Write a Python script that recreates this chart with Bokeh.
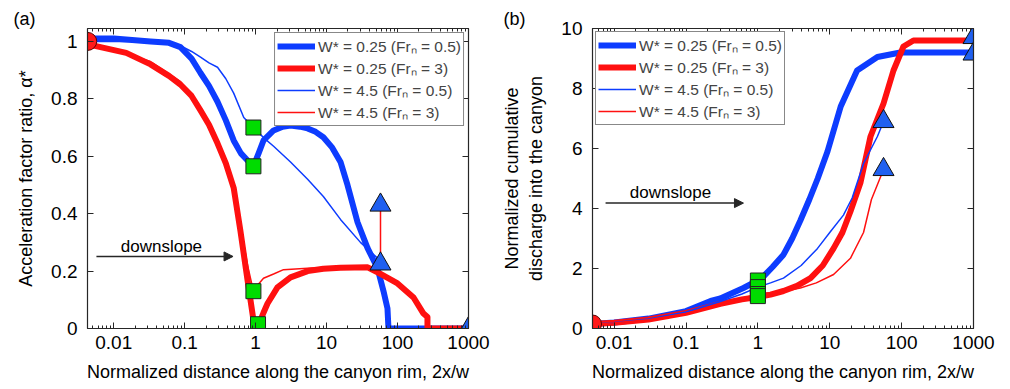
from bokeh.plotting import figure
from bokeh.models import (LogAxis, LinearAxis, Range1d, Legend, LegendItem, Label, Title,
                          Arrow, NormalHead, FixedTicker, CustomJSTickFormatter)
from bokeh.layouts import row
from bokeh.embed import file_html
from bokeh.resources import INLINE

# ---------------- panel (a): acceleration factor ratio ----------------
a_blue_thick_x = [0.0043, 0.01, 0.033, 0.06, 0.087, 0.125, 0.167, 0.22, 0.29, 0.38, 0.49, 0.62, 0.77, 0.93,
                  1.1, 1.29, 1.79, 2.4, 3.1, 4.2, 5.4, 7.0, 9.0, 12.0, 15.7, 19.7, 27.3, 37.8, 52.2, 63.4, 72.1, 74.5, 1000]
a_blue_thick_y = [1.01, 1.01, 1.0, 0.995, 0.98, 0.94, 0.89, 0.845, 0.79, 0.725, 0.655, 0.61, 0.585, 0.565,
                  0.61, 0.655, 0.69, 0.703, 0.707, 0.703, 0.697, 0.685, 0.666, 0.63, 0.58, 0.50, 0.37, 0.28, 0.21, 0.13, 0.07, 0.0, 0.0]

a_red_thick_x = [0.0043, 0.0065, 0.015, 0.033, 0.06, 0.087, 0.125, 0.167, 0.22, 0.29, 0.38, 0.49, 0.61, 0.77, 0.93, 1.08,
                 1.2, 1.29, 1.47, 2.03, 3.1, 5.4, 9.0, 15.7, 38, 57.5, 100, 168, 232, 264, 264, 1000]
a_red_thick_y = [0.99, 0.98, 0.96, 0.92, 0.88, 0.85, 0.81, 0.76, 0.71, 0.645, 0.575, 0.49, 0.34, 0.167, 0.03, 0.01,
                 0.035, 0.055, 0.087, 0.143, 0.178, 0.20, 0.208, 0.212, 0.213, 0.19, 0.157, 0.108, 0.052, 0.04, 0.0, 0.0]

a_blue_thin_x = [0.0043, 0.033, 0.087, 0.125, 0.167, 0.22, 0.29, 0.38, 0.49, 0.68, 0.93,
                 1.29, 1.79, 3.1, 5.4, 9.0, 15.7, 30, 52.2, 57.5]
a_blue_thin_y = [1.0, 1.0, 0.985, 0.965, 0.945, 0.925, 0.91, 0.87, 0.82, 0.735, 0.70,
                 0.665, 0.635, 0.58, 0.52, 0.46, 0.38, 0.30, 0.245, 0.225]

a_red_thin_x = [0.0043, 0.0065, 0.033, 0.087, 0.167, 0.29, 0.49, 0.61, 0.77, 0.93,
                1.1, 1.29, 1.79, 2.47, 5.4, 15.7, 42, 57.5, 57.5]
a_red_thin_y = [0.995, 0.985, 0.93, 0.86, 0.77, 0.655, 0.50, 0.36, 0.22, 0.13,
                0.155, 0.175, 0.19, 0.205, 0.21, 0.215, 0.215, 0.22, 0.43]

a_square_x = [0.93, 0.93, 0.93, 1.08]
a_square_y = [0.70, 0.565, 0.13, 0.015]
a_circle_x = [0.0043]
a_circle_y = [1.0]
a_tri_x = [57.5, 57.5, 1000]
a_tri_y = [0.43, 0.225, 0.0]

# ---------------- panel (b): cumulative discharge ----------------
b_blue_thick_x = [0.005, 0.01, 0.03, 0.1, 0.22, 0.3, 0.63, 1.0, 1.2, 1.6, 2.27, 3.0, 3.9, 5.2, 6.8, 9.3,
                  14.2, 24, 46, 96, 1000]
b_blue_thick_y = [0.15, 0.2, 0.33, 0.58, 0.92, 1.0, 1.35, 1.6, 1.74, 2.05, 2.46, 3.0, 3.6, 4.3, 5.0, 5.9,
                  7.4, 8.6, 9.05, 9.2, 9.2]

b_red_thick_x = [0.005, 0.01, 0.03, 0.1, 0.3, 0.6, 1.0, 1.5, 2.27, 3.5, 5.4, 8.0, 11.3, 15.0, 19.4, 26.8,
                 36.9, 56, 77, 106, 146, 1000]
b_red_thick_y = [0.15, 0.19, 0.3, 0.52, 0.82, 0.97, 1.05, 1.13, 1.25, 1.42, 1.68, 2.1, 2.67, 3.2, 3.9, 4.87,
                 6.4, 7.5, 8.6, 9.4, 9.6, 9.6]

b_blue_thin_x = [0.005, 0.01, 0.03, 0.1, 0.3, 0.6, 1.0, 1.5, 2.27, 4.0, 6.76, 10.0, 15.5, 20.5, 29.5, 46, 56]
b_blue_thin_y = [0.15, 0.2, 0.32, 0.55, 0.9, 1.15, 1.38, 1.52, 1.68, 2.1, 2.67, 3.2, 3.78, 4.35, 5.5, 6.4, 6.9]

b_red_thin_x = [0.005, 0.01, 0.03, 0.1, 0.3, 0.6, 1.0, 1.6, 2.5, 3.9, 6.5, 11.3, 19.4, 29.5, 38, 56]
b_red_thin_y = [0.15, 0.19, 0.29, 0.5, 0.8, 1.0, 1.15, 1.2, 1.26, 1.35, 1.52, 1.8, 2.34, 3.2, 4.3, 5.3]

b_square_x = [1.0, 1.0, 1.0, 1.0]
b_square_y = [1.6, 1.38, 1.15, 1.08]
b_circle_x = [0.005]
b_circle_y = [0.15]
b_tri_x = [1000, 1000, 56, 56]
b_tri_y = [9.7, 9.15, 6.9, 5.3]

x_major = [0.01, 0.1, 1, 10, 100, 1000]
a_y_ticks = [0, 0.2, 0.4, 0.6, 0.8, 1.0]
b_y_ticks = [0, 2, 4, 6, 8, 10]
legend_labels = ["W* = 0.25 (Frₙ = 0.5)", "W* = 0.25 (Frₙ = 3)",
                 "W* = 4.5 (Frₙ = 0.5)", "W* = 4.5 (Frₙ = 3)"]

FONT = "Liberation Sans"
BLUE = "#0d3cff"
RED = "#ff1010"
GREEN = "#00dc00"
TRI = "#2060f0"
AX = "#262626"
x_minor = [m * 10.0 ** e for e in range(-3, 3) for m in range(2, 10)]


def fmt():
    return CustomJSTickFormatter(code="return String(tick);")


def style(ax, show_labels=True):
    ax.major_tick_in = 6
    ax.major_tick_out = 0
    ax.minor_tick_in = 3
    ax.minor_tick_out = 0
    ax.axis_line_color = AX
    ax.major_tick_line_color = AX
    ax.minor_tick_line_color = AX
    ax.axis_line_width = 1.2
    if show_labels:
        ax.major_label_text_font = FONT
        ax.major_label_text_font_size = "19px"
        ax.major_label_text_color = "black"
        ax.axis_label_text_font = FONT
        ax.axis_label_text_font_size = "18px"
        ax.axis_label_text_font_style = "normal"
        ax.axis_label_text_color = "black"
    else:
        ax.major_label_text_font_size = "2px"
        ax.major_label_text_alpha = 0.0
        ax.major_label_standoff = 0


def make_fig(xmin, ymax, width, bl, br, bt, yticks, ylabel, tag, tag_offset):
    p = figure(width=width, height=389, x_axis_type="log",
               x_range=Range1d(xmin, 1000), y_range=Range1d(0, ymax),
               output_backend="svg", toolbar_location=None,
               min_border_left=bl, min_border_right=br, min_border_top=bt, min_border_bottom=61)
    p.grid.visible = False
    p.outline_line_color = AX
    p.background_fill_color = "white"
    p.border_fill_color = "white"
    xa = p.xaxis[0]
    xa.ticker = FixedTicker(ticks=x_major, minor_ticks=x_minor)
    xa.formatter = fmt()
    xa.axis_label = "Normalized distance along the canyon rim, 2x/w"
    style(xa)
    xa.major_label_standoff = 7
    xa.axis_label_standoff = 10
    ya = p.yaxis[0]
    ya.ticker = FixedTicker(ticks=yticks)
    ya.formatter = fmt()
    ya.axis_label = ylabel
    style(ya)
    ya.minor_tick_in = 0
    ya.major_label_standoff = 10
    ya.axis_label_standoff = 12
    top = LogAxis(ticker=FixedTicker(ticks=x_major, minor_ticks=x_minor))
    style(top, False)
    p.add_layout(top, "above")
    right = LinearAxis(ticker=FixedTicker(ticks=yticks))
    style(right, False)
    right.minor_tick_in = 0
    p.add_layout(right, "right")
    p.add_layout(Title(text=tag, align="left", offset=tag_offset, standoff=0,
                       text_font=FONT, text_font_size="18px", text_font_style="normal",
                       text_color="black"), "above")
    return p


def draw(p, d, legend_loc, margin):
    r1 = p.line(d["btx"], d["bty"], line_color=BLUE, line_width=6, line_join="round")
    r2 = p.line(d["rtx"], d["rty"], line_color=RED, line_width=6, line_join="round")
    r3 = p.line(d["bnx"], d["bny"], line_color=BLUE, line_width=1.5)
    r4 = p.line(d["rnx"], d["rny"], line_color=RED, line_width=1.5)
    p.scatter(d["sqx"], d["sqy"], marker="square", size=15, fill_color=GREEN, line_color="#222", line_width=1)
    p.scatter(d["cx"], d["cy"], marker="circle", size=18, fill_color="#ff1a1a", line_color="#5a0000", line_width=1)
    p.scatter(d["tx"], d["ty"], marker="triangle", size=21, fill_color=TRI, line_color="#111", line_width=1)
    items = [LegendItem(label=legend_labels[i], renderers=[r]) for i, r in enumerate([r1, r2, r3, r4])]
    lg = Legend(items=items, location=legend_loc, margin=margin, padding=2, spacing=0,
                glyph_width=38, glyph_height=12, label_height=12, label_standoff=3,
                label_text_font=FONT, label_text_font_size="15.5px",
                border_line_color="#111", border_line_width=1.5, background_fill_alpha=1.0)
    p.add_layout(lg)


pa = make_fig(10 ** -2.37, 1.045, 495, 87, 27, 28, a_y_ticks, "Acceleration factor ratio, α*", "(a)", -74)
draw(pa, dict(btx=a_blue_thick_x, bty=a_blue_thick_y, rtx=a_red_thick_x, rty=a_red_thick_y,
              bnx=a_blue_thin_x, bny=a_blue_thin_y, rnx=a_red_thin_x, rny=a_red_thin_y,
              sqx=a_square_x, sqy=a_square_y, cx=a_circle_x, cy=a_circle_y, tx=a_tri_x, ty=a_tri_y),
     "top_right", 4)
pa.add_layout(Arrow(end=NormalHead(size=9, fill_color=AX, line_color=AX), x_start=0.0057, y_start=0.251,
                    x_end=0.48, y_end=0.251, line_color=AX, line_width=1.5))
pa.add_layout(Label(x=0.047, y=0.284, text="downslope", text_align="center", text_baseline="middle",
                    text_font=FONT, text_font_size="17px", text_color="black"))

pb = make_fig(0.005, 10, 515, 97, 37, 24, b_y_ticks, "Normalized cumulative\ndischarge into the canyon", "(b)", -89)
draw(pb, dict(btx=b_blue_thick_x, bty=b_blue_thick_y, rtx=b_red_thick_x, rty=b_red_thick_y,
              bnx=b_blue_thin_x, bny=b_blue_thin_y, rnx=b_red_thin_x, rny=b_red_thin_y,
              sqx=b_square_x, sqy=b_square_y, cx=b_circle_x, cy=b_circle_y, tx=b_tri_x, ty=b_tri_y),
     "top_left", 3)
pb.add_layout(Arrow(end=NormalHead(size=9, fill_color=AX, line_color=AX), x_start=0.0076, y_start=4.18,
                    x_end=0.63, y_end=4.18, line_color=AX, line_width=1.5))
pb.add_layout(Label(x=0.0608, y=4.54, text="downslope", text_align="center", text_baseline="middle",
                    text_font=FONT, text_font_size="17px", text_color="black"))

layout = row(pa, pb)
open("out.html", "w").write(file_html(layout, INLINE))
